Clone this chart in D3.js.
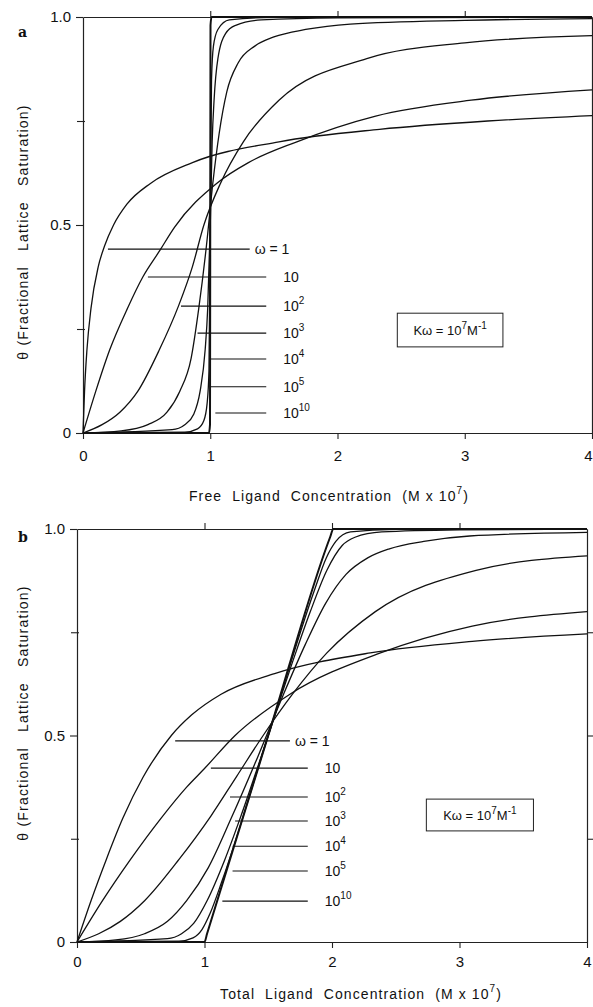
<!DOCTYPE html>
<html>
<head>
<meta charset="utf-8">
<script src="https://cdn.jsdelivr.net/npm/d3@7"></script>
<style>
body { margin: 0; background: #fff; }
svg { display: block; font-family: "Liberation Sans", Arial, sans-serif; }
</style>
</head>
<body>
<svg id="chart" width="593" height="1007"></svg>
<script>
// ticks
const xTicks = [0, 1, 2, 3, 4];
const yTicks = [0, 0.25, 0.5, 0.75, 1];
const yTickLabels = { 0: "0", 0.5: "0.5", 1: "1.0" };
const omegaLabels = [["ω = 1", ""], ["10", ""], ["10", "2"], ["10", "3"], ["10", "4"], ["10", "5"], ["10", "10"]];

// panel a : theta vs free ligand concentration (M x 10^7)
const freeW1 = [[0,0],[0.012,0.1],[0.031,0.2],[0.063,0.3],[0.12,0.4],[0.17,0.45],[0.24,0.5],[0.345,0.55],[0.53,0.6],[0.86,0.65],[1.54,0.7],[2.33,0.73],[3.18,0.75],[4.0,0.763]];
const freeW10 = [[0,0],[0.1,0.1],[0.21,0.2],[0.35,0.3],[0.47,0.375],[0.6,0.437],[0.72,0.495],[1.05,0.6],[1.3,0.65],[1.68,0.7],[2.3,0.762],[3.05,0.8],[4.0,0.825]];
const freeW100 = [[0,0],[0.15,0.02],[0.29,0.05],[0.43,0.1],[0.6,0.2],[0.75,0.305],[0.86,0.4],[0.95,0.5],[1.08,0.6],[1.26,0.7],[1.54,0.8],[2.23,0.9],[3.0,0.938],[4.0,0.955]];
const freeW1e3 = [[0,0],[0.3,0.005],[0.51,0.02],[0.66,0.05],[0.76,0.1],[0.85,0.18],[0.91,0.3],[0.97,0.45],[1.02,0.6],[1.07,0.72],[1.13,0.82],[1.22,0.89],[1.35,0.93],[1.5,0.952],[1.75,0.97],[2.1,0.983],[3.0,0.992],[4.0,0.996]];
const freeW1e4 = [[0,0],[0.7,0.008],[0.8,0.02],[0.87,0.045],[0.92,0.1],[0.96,0.2],[0.98,0.3],[1.0,0.5],[1.015,0.7],[1.03,0.8],[1.06,0.9],[1.12,0.96],[1.2,0.98],[1.4,0.993],[2.0,0.998],[4.0,1]];
const freeW1e5 = [[0,0],[0.8,0.002],[0.9,0.01],[0.95,0.03],[0.975,0.07],[0.99,0.15],[1.0,0.5],[1.01,0.85],[1.025,0.93],[1.06,0.97],[1.15,0.993],[1.5,0.999],[4.0,1]];
const freeW1e10 = [[0,0],[0.99,0],[0.998,0.02],[1.0,0.5],[1.002,0.98],[1.01,1],[4.0,1]];
const freeLegendTheta = [0.442, 0.375, 0.305, 0.24, 0.178, 0.111, 0.048];
const freeLegendStart = [0.196, 0.51, 0.77, 0.9, 0.99, 1.0, 1.04];

// panel b : theta vs total ligand concentration (M x 10^7)
const totalW1 = [[0,0],[0.11,0.1],[0.23,0.2],[0.36,0.3],[0.52,0.4],[0.74,0.5],[0.9,0.55],[1.13,0.6],[1.55,0.65],[2.3,0.7],[3.1,0.728],[4.0,0.746]];
const totalW10 = [[0,0],[0.2,0.1],[0.42,0.2],[0.66,0.3],[0.86,0.375],[1.0,0.42],[1.24,0.5],[1.67,0.6],[2.38,0.7],[3.1,0.765],[4.0,0.8]];
const totalW100 = [[0,0],[0.17,0.02],[0.34,0.05],[0.53,0.1],[0.8,0.2],[1.05,0.305],[1.25,0.4],[1.46,0.5],[1.69,0.6],[1.96,0.7],[2.34,0.8],[3.13,0.9],[4.0,0.935]];
const totalW1e3 = [[0,0],[0.305,0.005],[0.53,0.02],[0.71,0.05],[0.86,0.1],[1.03,0.18],[1.21,0.3],[1.42,0.45],[1.62,0.6],[1.79,0.72],[1.95,0.82],[2.11,0.89],[2.28,0.93],[2.45,0.952],[2.72,0.97],[3.08,0.983],[4.0,0.992]];
const totalW1e4 = [[0,0],[0.71,0.008],[0.82,0.02],[0.915,0.045],[1.02,0.1],[1.16,0.2],[1.28,0.3],[1.5,0.5],[1.715,0.7],[1.83,0.8],[1.96,0.9],[2.08,0.96],[2.18,0.98],[2.39,0.993],[3.0,0.998],[4.0,1]];
const totalW1e5 = [[0,0],[0.8,0.002],[0.91,0.01],[0.98,0.03],[1.045,0.07],[1.14,0.15],[1.5,0.5],[1.86,0.85],[1.955,0.93],[2.03,0.97],[2.145,0.993],[2.5,0.999],[4.0,1]];
const totalW1e10 = [[0,0],[1.0,0],[1.02,0.02],[1.5,0.5],[1.985,0.98],[2.01,1],[4.0,1]];
const totalLegendTheta = [0.487, 0.421, 0.351, 0.293, 0.232, 0.172, 0.099];
const totalLegendStart = [0.77, 1.05, 1.2, 1.24, 1.22, 1.22, 1.14];

const svg = d3.select("#chart");
const W = 593;

const panels = [
	{
		letter: "a", letterY: 37,
		xRange: [83, 592], yRange: [433, 17], xPad: 11,
		curves: [freeW1, freeW10, freeW100, freeW1e3, freeW1e4, freeW1e5, freeW1e10],
		legendTheta: freeLegendTheta, legendStart: freeLegendStart, legendEnd: [1.31, 1.44],
		box: [2.47, 3.30, 0.288, 0.207],
		title: "Free  Ligand  Concentration  (M x 10", titleX: 329, titleY: 501,
		yTitleY: 232
	},
	{
		letter: "b", letterY: 542,
		xRange: [77, 587], yRange: [942, 529], xPad: 8,
		curves: [totalW1, totalW10, totalW100, totalW1e3, totalW1e4, totalW1e5, totalW1e10],
		legendTheta: totalLegendTheta, legendStart: totalLegendStart, legendEnd: [1.67, 1.81],
		box: [2.74, 3.58, 0.346, 0.269],
		title: "Total  Ligand  Concentration  (M x 10", titleX: 361, titleY: 999,
		yTitleY: 713
	}
];

panels.forEach(p => drawPanel(p));

function styleAxis(g) {
	g.select(".domain").attr("stroke", "#222").attr("stroke-width", 1.2);
	g.selectAll(".tick line").attr("stroke", "#222").attr("stroke-width", 1.1);
	g.selectAll(".tick text").attr("fill", "#111").attr("font-size", 15)
		.attr("font-family", '"Liberation Sans", Arial, sans-serif');
}

function drawPanel(p) {
	const x = d3.scaleLinear().domain([0, 4]).range(p.xRange);
	const y = d3.scaleLinear().domain([0, 1]).range(p.yRange);
	const g = svg.append("g");

	// axes on all four sides
	const bottom = g.append("g").attr("transform", `translate(0,${y(0)})`)
		.call(d3.axisBottom(x).tickValues(xTicks).tickSize(6).tickSizeOuter(0).tickPadding(p.xPad)
			.tickFormat(d3.format("d")))
		.call(styleAxis);
	// keep the last label inside the page
	bottom.selectAll(".tick text").filter(d => x(d) + 5 > W)
		.attr("text-anchor", "end").attr("x", d => W - 1 - x(d));
	g.append("g").attr("transform", `translate(0,${y(1)})`)
		.call(d3.axisTop(x).tickValues([1, 2, 3]).tickSize(6).tickSizeOuter(0).tickFormat(""))
		.call(styleAxis);
	g.append("g").attr("transform", `translate(${x(4)},0)`)
		.call(d3.axisRight(y).tickValues([0.25, 0.5, 0.75]).tickSize(6).tickSizeOuter(0).tickFormat(""))
		.call(styleAxis);
	const left = g.append("g").attr("transform", `translate(${x(0)},0)`)
		.call(d3.axisLeft(y).tickValues(yTicks).tickSize(7).tickSizeOuter(0).tickPadding(5)
			.tickFormat(d => yTickLabels[d] || ""))
		.call(styleAxis);
	left.selectAll(".tick").filter(d => !yTickLabels[d]).select("line").attr("x1", 2).attr("x2", -6);

	// curves
	const line = d3.line().x(d => x(d[0])).y(d => y(d[1])).curve(d3.curveMonotoneX);
	g.selectAll("path.curve")
		.data(p.curves)
		.enter()
		.append("path")
		.attr("class", "curve")
		.attr("d", line)
		.attr("fill", "none")
		.attr("stroke", "#111")
		.attr("stroke-width", (d, i) => i === 6 ? 2 : 1.3);

	// leader lines and omega labels
	omegaLabels.forEach((lab, i) => {
		const end = i === 0 ? p.legendEnd[0] : p.legendEnd[1];
		const ly = y(p.legendTheta[i]);
		g.append("line")
			.attr("x1", x(p.legendStart[i])).attr("x2", x(end))
			.attr("y1", ly).attr("y2", ly)
			.attr("stroke", "#111").attr("stroke-width", 1.1);
		const t = g.append("text")
			.attr("x", x(end) + (i === 0 ? 5 : 17))
			.attr("y", ly + 5)
			.attr("font-size", 14)
			.attr("fill", "#111")
			.text(lab[0]);
		if (lab[1]) {
			t.append("tspan").attr("dy", -7).attr("font-size", 10).text(lab[1]);
		}
	});

	// K omega box
	const [bx0, bx1, by0, by1] = p.box;
	g.append("rect")
		.attr("x", x(bx0)).attr("y", y(by0))
		.attr("width", x(bx1) - x(bx0)).attr("height", y(by1) - y(by0))
		.attr("fill", "none").attr("stroke", "#222").attr("stroke-width", 1);
	const kt = g.append("text")
		.attr("x", (x(bx0) + x(bx1)) / 2)
		.attr("y", (y(by0) + y(by1)) / 2 + 5)
		.attr("text-anchor", "middle")
		.attr("font-size", 13)
		.attr("fill", "#111")
		.text("Kω = 10");
	kt.append("tspan").attr("dy", -6).attr("font-size", 10).text("7");
	kt.append("tspan").attr("dy", 6).text("M");
	kt.append("tspan").attr("dy", -6).attr("font-size", 10).text("-1");

	// x title
	const xt = g.append("text")
		.attr("x", p.titleX).attr("y", p.titleY)
		.attr("text-anchor", "middle")
		.attr("font-size", 14)
		.attr("letter-spacing", 1.1)
		.attr("fill", "#111")
		.attr("xml:space", "preserve")
		.text(p.title);
	xt.append("tspan").attr("dy", -7).attr("font-size", 10).text("7");
	xt.append("tspan").attr("dy", 7).text(")");

	// y title
	g.append("text")
		.attr("transform", `translate(28,${p.yTitleY}) rotate(-90)`)
		.attr("text-anchor", "middle")
		.attr("font-size", 14)
		.attr("letter-spacing", 1.2)
		.attr("fill", "#111")
		.attr("xml:space", "preserve")
		.text("θ (Fractional   Lattice   Saturation)");

	// panel letter
	g.append("text")
		.attr("x", 18).attr("y", p.letterY)
		.attr("font-family", '"DejaVu Serif", "Liberation Serif", serif')
		.attr("font-weight", "bold")
		.attr("font-size", 14)
		.attr("fill", "#111")
		.text(p.letter);
}
</script>
</body>
</html>
